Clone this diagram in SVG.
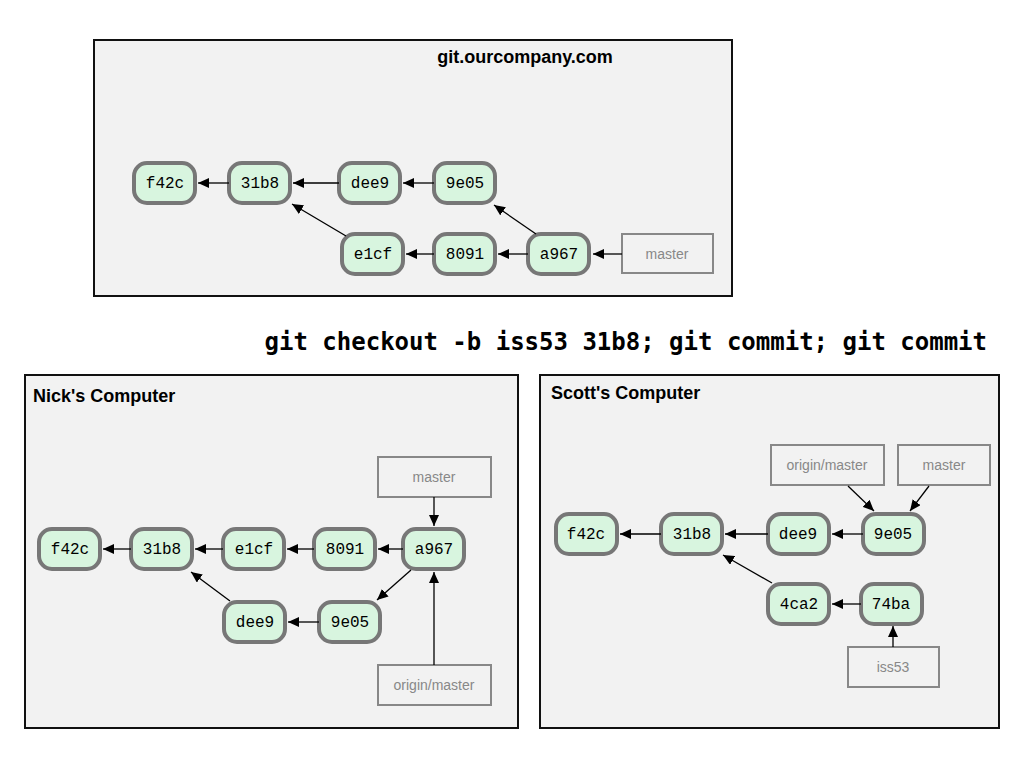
<svg xmlns="http://www.w3.org/2000/svg" width="1024" height="768" viewBox="0 0 1024 768">
  <style>
    .panel { fill: #f2f2f2; stroke: #111; stroke-width: 2; }
    .title { font-family: "Liberation Sans", Arial, sans-serif; font-weight: bold; font-size: 18px; fill: #000; }
    .commit rect { fill: #d8f5df; stroke: #777; stroke-width: 4; }
    .commit text { font-family: "Liberation Mono", "Courier New", monospace; font-size: 16px; fill: #000; text-anchor: middle; }
    .ref rect { fill: #f2f2f2; stroke: #888; stroke-width: 2; }
    .ref text { font-family: "Liberation Sans", Arial, sans-serif; font-size: 14px; fill: #888; text-anchor: middle; }
    .edge { stroke: #000; stroke-width: 1.3; fill: none; marker-end: url(#arrow); }
    .cmd { font-family: "DejaVu Sans Mono", monospace; font-weight: bold; font-size: 24px; fill: #000; }
  </style>
  <defs>
    <marker id="arrow" markerUnits="userSpaceOnUse" markerWidth="12" markerHeight="10" refX="11" refY="5" orient="auto">
      <path d="M0,0 L11,5 L0,10 Z" fill="#000"/>
    </marker>
  </defs>

  <rect width="1024" height="768" fill="#fff"/>

  <!-- server repository -->
  <g id="server">
    <rect class="panel" x="94" y="40" width="638" height="256"/>
    <text class="title" x="525" y="63" text-anchor="middle">git.ourcompany.com</text>
  </g>
  <g id="s-f42c" class="commit"><rect x="134" y="163" width="61" height="40" rx="13"/><text x="165" y="188">f42c</text></g>
  <g id="s-31b8" class="commit"><rect x="229" y="163" width="61" height="40" rx="13"/><text x="260" y="188">31b8</text></g>
  <g id="s-dee9" class="commit"><rect x="339" y="163" width="61" height="40" rx="13"/><text x="370" y="188">dee9</text></g>
  <g id="s-9e05" class="commit"><rect x="434" y="163" width="61" height="40" rx="13"/><text x="465" y="188">9e05</text></g>
  <g id="s-e1cf" class="commit"><rect x="342" y="234" width="61" height="40" rx="13"/><text x="373" y="259">e1cf</text></g>
  <g id="s-8091" class="commit"><rect x="434" y="234" width="61" height="40" rx="13"/><text x="465" y="259">8091</text></g>
  <g id="s-a967" class="commit"><rect x="528" y="234" width="61" height="40" rx="13"/><text x="559" y="259">a967</text></g>
  <g id="s-master" class="ref"><rect x="622" y="234" width="91" height="39"/><text x="667" y="259">master</text></g>

  <!-- command -->
  <text id="command" class="cmd" x="987" y="350" text-anchor="end">git checkout -b iss53 31b8; git commit; git commit</text>

  <!-- Nick's repository -->
  <g id="nick">
    <rect class="panel" x="25" y="375" width="493" height="353"/>
    <text class="title" x="33" y="402">Nick's Computer</text>
  </g>
  <g id="n-f42c" class="commit"><rect x="39" y="529" width="61" height="40" rx="13"/><text x="70" y="554">f42c</text></g>
  <g id="n-31b8" class="commit"><rect x="131" y="529" width="61" height="40" rx="13"/><text x="162" y="554">31b8</text></g>
  <g id="n-e1cf" class="commit"><rect x="223" y="529" width="61" height="40" rx="13"/><text x="254" y="554">e1cf</text></g>
  <g id="n-8091" class="commit"><rect x="314" y="529" width="61" height="40" rx="13"/><text x="345" y="554">8091</text></g>
  <g id="n-a967" class="commit"><rect x="403" y="529" width="61" height="40" rx="13"/><text x="434" y="554">a967</text></g>
  <g id="n-dee9" class="commit"><rect x="224" y="602" width="61" height="40" rx="13"/><text x="255" y="627">dee9</text></g>
  <g id="n-9e05" class="commit"><rect x="319" y="602" width="61" height="40" rx="13"/><text x="350" y="627">9e05</text></g>
  <g id="n-master" class="ref"><rect x="378" y="457" width="113" height="40"/><text x="434" y="482">master</text></g>
  <g id="n-origin-master" class="ref"><rect x="378" y="665" width="113" height="40"/><text x="434" y="690">origin/master</text></g>

  <!-- Scott's repository -->
  <g id="scott">
    <rect class="panel" x="540" y="375" width="459" height="353"/>
    <text class="title" x="551" y="399">Scott's Computer</text>
  </g>
  <g id="c-f42c" class="commit"><rect x="556" y="514" width="61" height="40" rx="13"/><text x="586" y="539">f42c</text></g>
  <g id="c-31b8" class="commit"><rect x="661" y="514" width="61" height="40" rx="13"/><text x="692" y="539">31b8</text></g>
  <g id="c-dee9" class="commit"><rect x="768" y="514" width="61" height="40" rx="13"/><text x="798" y="539">dee9</text></g>
  <g id="c-9e05" class="commit"><rect x="863" y="514" width="61" height="40" rx="13"/><text x="893" y="539">9e05</text></g>
  <g id="c-4ca2" class="commit"><rect x="768" y="584" width="61" height="40" rx="13"/><text x="799" y="609">4ca2</text></g>
  <g id="c-74ba" class="commit"><rect x="861" y="584" width="61" height="40" rx="13"/><text x="891" y="609">74ba</text></g>
  <g id="c-origin-master" class="ref"><rect x="771" y="445" width="113" height="40"/><text x="827" y="470">origin/master</text></g>
  <g id="c-master" class="ref"><rect x="898" y="445" width="92" height="40"/><text x="944" y="470">master</text></g>
  <g id="c-iss53" class="ref"><rect x="848" y="647" width="91" height="40"/><text x="893" y="672">iss53</text></g>

  <!-- connectors -->
  <g id="connectors">
    <line class="edge" x1="229" y1="183" x2="198" y2="183"/>
    <line class="edge" x1="339" y1="183" x2="293" y2="183"/>
    <line class="edge" x1="434" y1="183" x2="403" y2="183"/>
    <line class="edge" x1="434" y1="254" x2="406" y2="254"/>
    <line class="edge" x1="528" y1="254" x2="498" y2="254"/>
    <line class="edge" x1="622" y1="254" x2="593" y2="254"/>
    <line class="edge" x1="346" y1="236" x2="292" y2="204"/>
    <line class="edge" x1="536" y1="234" x2="494" y2="205"/>

    <line class="edge" x1="131" y1="549" x2="103" y2="549"/>
    <line class="edge" x1="223" y1="549" x2="195" y2="549"/>
    <line class="edge" x1="314" y1="549" x2="287" y2="549"/>
    <line class="edge" x1="403" y1="549" x2="378" y2="549"/>
    <line class="edge" x1="434" y1="497" x2="434" y2="526"/>
    <line class="edge" x1="434" y1="665" x2="434" y2="572"/>
    <line class="edge" x1="411" y1="570" x2="377" y2="600"/>
    <line class="edge" x1="319" y1="622" x2="288" y2="622"/>
    <line class="edge" x1="230" y1="601" x2="191" y2="572"/>

    <line class="edge" x1="661" y1="534" x2="620" y2="534"/>
    <line class="edge" x1="768" y1="534" x2="725" y2="534"/>
    <line class="edge" x1="863" y1="534" x2="832" y2="534"/>
    <line class="edge" x1="861" y1="604" x2="832" y2="604"/>
    <line class="edge" x1="772" y1="583" x2="723" y2="555"/>
    <line class="edge" x1="848" y1="486" x2="874" y2="511"/>
    <line class="edge" x1="929" y1="486" x2="910" y2="511"/>
    <line class="edge" x1="893" y1="647" x2="893" y2="626"/>
  </g>
</svg>
